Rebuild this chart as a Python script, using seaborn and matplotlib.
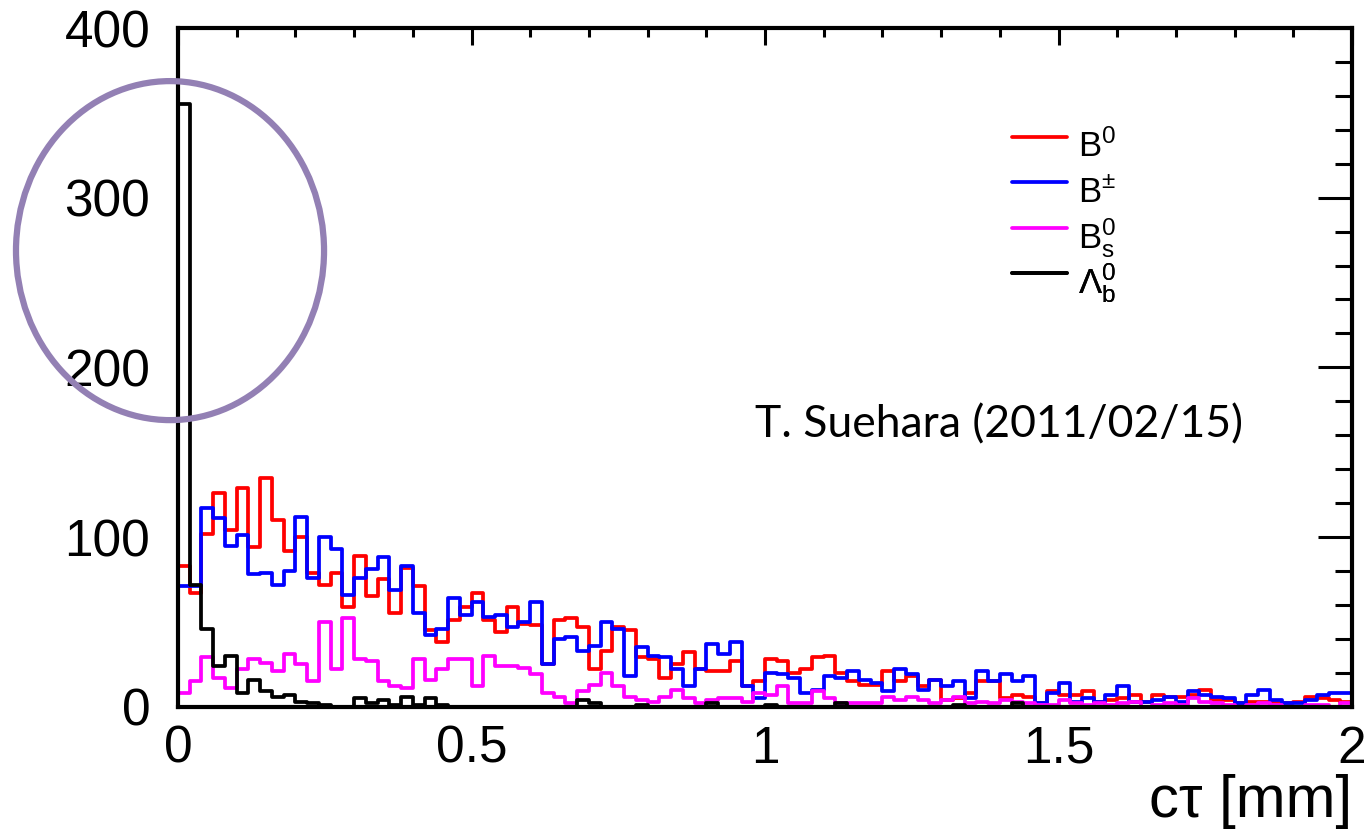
import numpy as np
import pandas as pd
import matplotlib
matplotlib.use("Agg")
import matplotlib.pyplot as plt
import seaborn as sns
from matplotlib.patches import Ellipse
from matplotlib.ticker import MultipleLocator

# ---------------- data (bin contents, 100 bins of 0.02 mm from 0 to 2 mm) ----------------
b0_counts = [83, 67, 102, 126, 104, 129, 94, 135, 110, 92,
             100, 79, 72, 79, 59, 89, 65, 75, 55, 82,
             71, 45, 38, 51, 59, 67, 51, 44, 59, 49,
             48, 25, 51, 52, 47, 22, 33, 47, 45, 29,
             28, 17, 25, 32, 22, 21, 21, 27, 12, 15,
             28, 27, 20, 22, 29, 30, 20, 15, 13, 13,
             21, 15, 18, 12, 16, 4, 5, 8, 15, 15,
             5, 7, 6, 2, 9, 7, 7, 9, 3, 4,
             5, 7, 3, 7, 6, 6, 7, 10, 4, 4,
             2, 3, 3, 2, 2, 3, 6, 5, 4, 3]
bpm_counts = [71, 71, 117, 111, 95, 101, 78, 79, 72, 80,
              112, 76, 100, 93, 66, 76, 81, 88, 69, 83,
              55, 42, 46, 64, 54, 62, 53, 54, 47, 50,
              62, 25, 40, 41, 33, 36, 50, 46, 18, 35,
              30, 29, 22, 12, 22, 37, 31, 38, 12, 5,
              20, 19, 17, 8, 10, 18, 17, 21, 16, 14,
              9, 22, 19, 10, 16, 12, 15, 5, 21, 15,
              19, 15, 18, 2, 8, 14, 3, 5, 3, 7,
              12, 3, 3, 4, 6, 3, 9, 7, 6, 5,
              2, 7, 10, 4, 2, 2, 4, 7, 8, 8]
bs_counts = [8, 15, 29, 17, 11, 22, 28, 26, 21, 31,
             25, 15, 50, 22, 52, 28, 27, 15, 12, 11,
             28, 16, 22, 28, 28, 12, 30, 24, 24, 23,
             19, 8, 6, 2, 9, 13, 20, 12, 6, 4,
             3, 6, 10, 5, 2, 4, 5, 5, 3, 8,
             7, 12, 2, 2, 9, 5, 2, 2, 2, 2,
             6, 4, 6, 4, 2, 4, 6, 2, 3, 2,
             4, 3, 2, 1, 1, 4, 2, 1, 2, 1,
             2, 3, 0, 1, 2, 1, 5, 3, 2, 1,
             0, 1, 2, 1, 0, 0, 1, 1, 0, 2]
lb_counts = [355, 72, 46, 24, 30, 8, 16, 9, 6, 7,
             3, 2, 1, 0, 0, 5, 2, 4, 1, 6,
             1, 5, 1, 0, 0, 0, 0, 0, 0, 0,
             0, 0, 0, 0, 4, 2, 0, 0, 0, 1,
             0, 0, 0, 0, 0, 2, 0, 0, 0, 0,
             1, 0, 0, 0, 0, 0, 2, 0, 0, 0,
             0, 0, 0, 0, 0, 0, 1, 0, 0, 0,
             0, 2, 0, 0, 0, 0, 0, 0, 0, 0,
             0, 0, 0, 0, 0, 0, 0, 0, 0, 0,
             0, 0, 0, 0, 0, 0, 0, 0, 0, 0]

series_labels = [r"B$^{0}$", r"B$^{\pm}$", r"B$_{s}^{0}$", r"Λ$_{b}^{0}$"]
series_colors = ["#ff0000", "#0000ff", "#ff00ff", "#000000"]

x_range = (0.0, 2.0)
n_bins = 100
y_range = (0, 400)
x_tick_values = [0, 0.5, 1, 1.5, 2]
x_tick_labels = ["0", "0.5", "1", "1.5", "2"]
y_tick_values = [0, 100, 200, 300, 400]
y_tick_labels = ["0", "100", "200", "300", "400"]
x_label = "cτ [mm]"
annotation = "T. Suehara (2011/02/15)"

# ---------------- styling ----------------
sns.set_style("white")
plt.rcParams["font.family"] = ["Liberation Sans", "DejaVu Sans"]
plt.rcParams["mathtext.default"] = "regular"
for key in ["text.color", "axes.labelcolor", "xtick.color", "ytick.color",
            "xtick.labelcolor", "ytick.labelcolor"]:
    plt.rcParams[key] = "black"

W, H = 1366, 836
fig = plt.figure(figsize=(W / 100, H / 100), dpi=100)
ax = fig.add_axes([178 / W, 1 - 706.7 / H, (1352 - 178) / W, (706.7 - 28) / H])

edges = np.linspace(x_range[0], x_range[1], n_bins + 1)
centers = 0.5 * (edges[:-1] + edges[1:])
all_counts = [b0_counts, bpm_counts, bs_counts, lb_counts]
df = pd.DataFrame({
    "ct": np.tile(centers, len(all_counts)),
    "count": np.concatenate([np.asarray(c, float) for c in all_counts]),
    "species": np.repeat(series_labels, n_bins),
})

for lab, col in zip(series_labels, series_colors):
    sub = df[df["species"] == lab]
    sns.histplot(data=sub, x="ct", weights="count", bins=n_bins, binrange=x_range,
                 element="step", fill=False, color=col, linewidth=2.7, ax=ax, label=lab)

ax.set_xlim(*x_range)
ax.set_ylim(*y_range)
ax.set_xticks(x_tick_values, x_tick_labels)
ax.set_yticks(y_tick_values, y_tick_labels)
ax.xaxis.set_minor_locator(MultipleLocator(0.1))
ax.yaxis.set_minor_locator(MultipleLocator(20))
ax.tick_params(which="both", direction="in", top=True, right=True, width=2.2, color="black")
ax.tick_params(axis="x", which="major", length=12, pad=13, labelsize=37)
ax.tick_params(axis="x", which="minor", length=6.5)
ax.tick_params(axis="y", which="major", length=24.5, pad=20, labelsize=37)
ax.tick_params(axis="y", which="minor", length=12)
for sp in ax.spines.values():
    sp.set_linewidth(3)
    sp.set_color("black")

ax.set_ylabel("")
ax.set_xlabel(x_label, loc="right", fontsize=43, labelpad=0)

# legend: one row per entry, evenly spaced like the ROOT legend
handles, labels = ax.get_legend_handles_labels()
row_y_px = [146, 191, 237, 282]
for h, l, ypx in zip(handles, labels, row_y_px):
    leg = ax.legend([h], [l], loc="center left", bbox_to_anchor=(1012 / W, 1 - ypx / H),
                    bbox_transform=fig.transFigure, frameon=False, fontsize=25,
                    handlelength=1.58, handleheight=2.2, handletextpad=0.32,
                    borderpad=0, borderaxespad=0)
    ax.add_artist(leg)

# author / date annotation
fig.text(755 / W, 1 - 437 / H, annotation, fontfamily="Lato", fontsize=32, va="baseline")

# highlight ellipse around the first bins
ell = Ellipse((-0.0068, 0.672), 0.2624, 0.4995, transform=ax.transAxes, fill=False,
              edgecolor="#9380b4", linewidth=4.5, clip_on=False, zorder=10)
ax.add_patch(ell)

fig.savefig("out.png", dpi=100)
